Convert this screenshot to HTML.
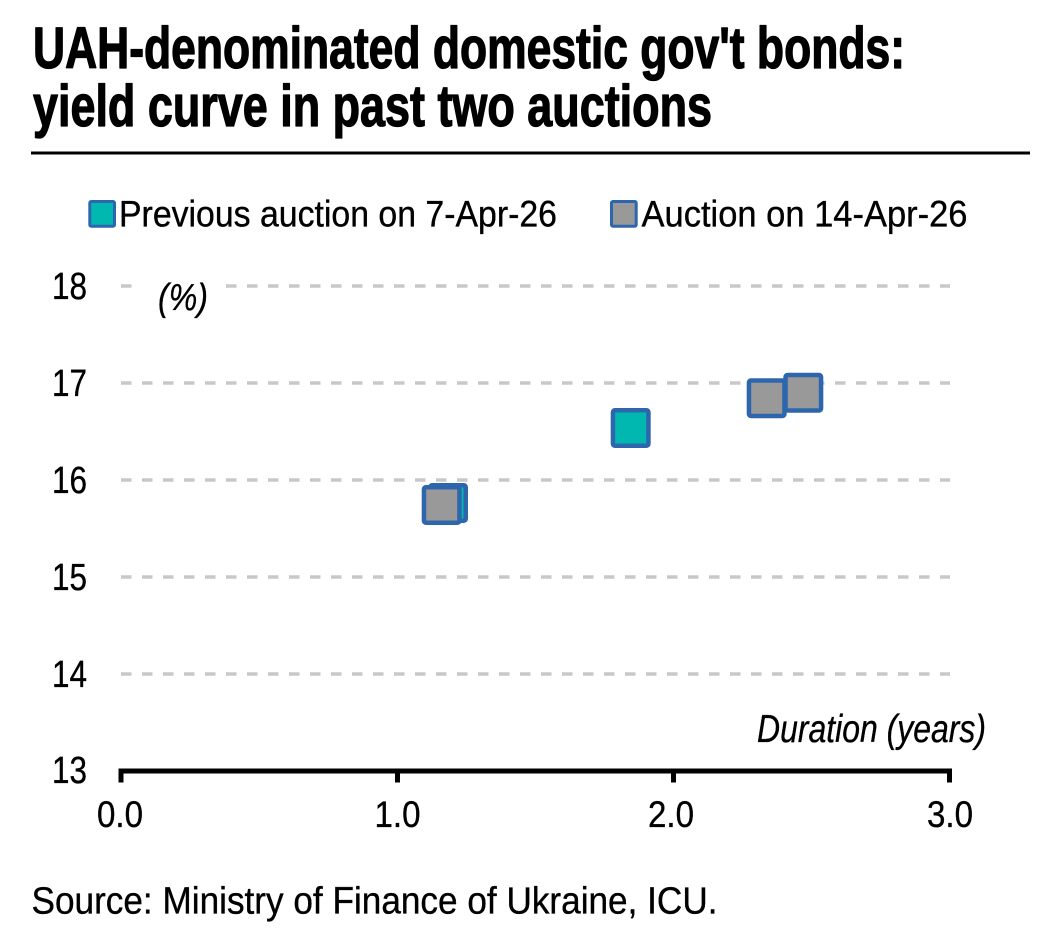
<!DOCTYPE html>
<html>
<head>
<meta charset="utf-8">
<style>
  html, body { margin: 0; padding: 0; background: #ffffff; }
  svg { display: block; }
  text { font-family: "Liberation Sans", Arial, sans-serif; fill: #000; }
  .reg { stroke: #000; stroke-width: 0.35; }
  .ttl { stroke: #000; stroke-width: 1.3; stroke-linejoin: round; }
</style>
</head>
<body>
<svg width="1042" height="951" viewBox="0 0 1042 951" xmlns="http://www.w3.org/2000/svg">
  <rect x="0" y="0" width="1042" height="951" fill="#ffffff"/>

  <!-- Title -->
  <text class="ttl" x="33" y="68" font-size="58" font-weight="bold" textLength="872" lengthAdjust="spacingAndGlyphs">UAH-denominated domestic gov't bonds:</text>
  <text class="ttl" x="33" y="126" font-size="58" font-weight="bold" textLength="679" lengthAdjust="spacingAndGlyphs">yield curve in past two auctions</text>
  <rect x="31" y="151.5" width="999" height="3" fill="#000"/>

  <!-- Legend -->
  <rect x="89.8" y="201.5" width="24.7" height="24.7" rx="1.5" fill="#00b8b0" stroke="#2e66ae" stroke-width="3"/>
  <text class="reg" x="119" y="226.7" font-size="37" textLength="438" lengthAdjust="spacingAndGlyphs">Previous auction on 7-Apr-26</text>
  <rect x="611.5" y="201.5" width="24.7" height="24.7" rx="1.5" fill="#999999" stroke="#2e66ae" stroke-width="3"/>
  <text class="reg" x="641.5" y="226.7" font-size="37" textLength="326" lengthAdjust="spacingAndGlyphs">Auction on 14-Apr-26</text>

  <!-- Gridlines -->
  <g stroke="#c8c8c8" stroke-width="3.5" stroke-dasharray="10.5 10.5" fill="none">
    <line x1="121" y1="286" x2="950" y2="286"/>
    <line x1="121" y1="383" x2="950" y2="383"/>
    <line x1="121" y1="480" x2="950" y2="480"/>
    <line x1="121" y1="577" x2="950" y2="577"/>
    <line x1="121" y1="674" x2="950" y2="674"/>
  </g>

  <!-- (%) label with white background -->
  <rect x="134" y="272" width="89" height="30" fill="#ffffff"/>
  <text class="reg" x="158" y="310" font-size="38" font-style="italic" textLength="50" lengthAdjust="spacingAndGlyphs">(%)</text>

  <!-- Y tick labels -->
  <g font-size="38" text-anchor="end">
    <text class="reg" x="87" y="299" textLength="35" lengthAdjust="spacingAndGlyphs">18</text>
    <text class="reg" x="87" y="396" textLength="35" lengthAdjust="spacingAndGlyphs">17</text>
    <text class="reg" x="87" y="493" textLength="35" lengthAdjust="spacingAndGlyphs">16</text>
    <text class="reg" x="87" y="590" textLength="35" lengthAdjust="spacingAndGlyphs">15</text>
    <text class="reg" x="87" y="687" textLength="35" lengthAdjust="spacingAndGlyphs">14</text>
    <text class="reg" x="87" y="783" textLength="35" lengthAdjust="spacingAndGlyphs">13</text>
  </g>

  <!-- X axis -->
  <rect x="118.5" y="768.5" width="833.5" height="5" fill="#000"/>
  <rect x="118.5" y="768.5" width="5" height="14" fill="#000"/>
  <rect x="395" y="768.5" width="5" height="14" fill="#000"/>
  <rect x="671" y="768.5" width="5" height="14" fill="#000"/>
  <rect x="947" y="768.5" width="5" height="14" fill="#000"/>

  <g font-size="37" text-anchor="middle">
    <text class="reg" x="120" y="827" textLength="46" lengthAdjust="spacingAndGlyphs">0.0</text>
    <text class="reg" x="397.5" y="827" textLength="46" lengthAdjust="spacingAndGlyphs">1.0</text>
    <text class="reg" x="671" y="827" textLength="46" lengthAdjust="spacingAndGlyphs">2.0</text>
    <text class="reg" x="950" y="827" textLength="46" lengthAdjust="spacingAndGlyphs">3.0</text>
  </g>

  <text class="reg" x="757" y="742" font-size="39" font-style="italic" textLength="229" lengthAdjust="spacingAndGlyphs">Duration (years)</text>

  <!-- Series: previous auction (teal) -->
  <rect x="430.25" y="485.25" width="35.5" height="35.5" rx="2" fill="#00b8b0" stroke="#2e66ae" stroke-width="4.5"/>
  <rect x="612.95" y="410.25" width="35.5" height="35.5" rx="2" fill="#00b8b0" stroke="#2e66ae" stroke-width="4.5"/>

  <!-- Series: current auction (gray) -->
  <rect x="423.95" y="487.25" width="35.5" height="35.5" rx="2" fill="#999999" stroke="#2e66ae" stroke-width="4.5"/>
  <rect x="748.95" y="380.55" width="35.5" height="35.5" rx="2" fill="#999999" stroke="#2e66ae" stroke-width="4.5"/>
  <rect x="785.55" y="374.95" width="35.5" height="35.5" rx="2" fill="#999999" stroke="#2e66ae" stroke-width="4.5"/>

  <!-- Source -->
  <text class="reg" x="31.5" y="913.3" font-size="38" textLength="686" lengthAdjust="spacingAndGlyphs">Source: Ministry of Finance of Ukraine, ICU.</text>
</svg>
</body>
</html>
